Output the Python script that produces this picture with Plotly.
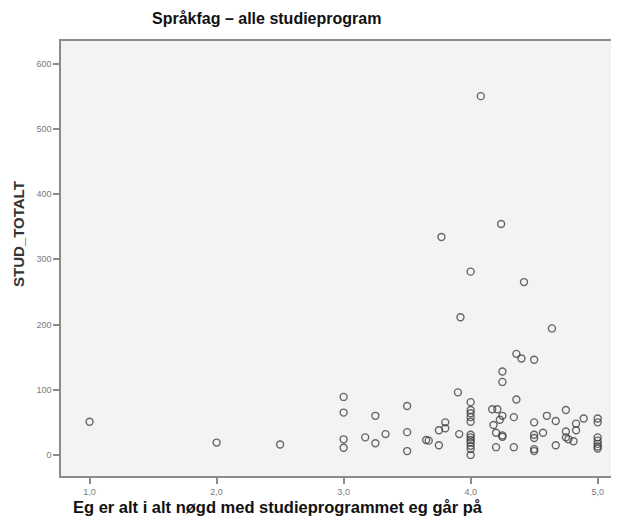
import plotly.graph_objects as go

# Satisfaction score (x) vs. total students (y)
satisfaction = [
    1.0, 2.0, 2.5,
    3.0, 3.0, 3.0, 3.0, 3.17, 3.25, 3.25, 3.33, 3.5, 3.5, 3.5,
    3.65, 3.67, 3.75, 3.75, 3.77, 3.8, 3.8, 3.9, 3.92, 3.91,
    4.0, 4.0, 4.0, 4.0, 4.0, 4.0, 4.0, 4.0, 4.0, 4.0, 4.0, 4.0, 4.0,
    4.08, 4.17, 4.21, 4.18, 4.2, 4.2, 4.23, 4.24, 4.25, 4.25, 4.25, 4.25, 4.25,
    4.34, 4.34, 4.36, 4.36, 4.4, 4.42,
    4.5, 4.5, 4.5, 4.5, 4.5, 4.5, 4.57, 4.6, 4.64, 4.67, 4.67,
    4.75, 4.75, 4.75, 4.77, 4.81, 4.83, 4.83, 4.89,
    5.0, 5.0, 5.0, 5.0, 5.0, 5.0, 5.0,
]
stud_totalt = [
    51, 19, 16,
    89, 65, 24, 11, 27, 60, 18, 32, 75, 35, 6,
    23, 22, 15, 38, 334, 50, 41, 96, 211, 32,
    281, 81, 69, 64, 58, 51, 31, 27, 23, 19, 14, 9, 0,
    550, 70, 70, 46, 34, 12, 54, 354, 128, 112, 60, 30, 28,
    58, 12, 85, 155, 148, 265,
    146, 50, 31, 26, 9, 6, 34, 60, 194, 52, 15,
    69, 36, 27, 24, 21, 48, 38, 56,
    56, 50, 27, 22, 17, 13, 10,
]

x_tickvals = [1, 2, 3, 4, 5]
x_ticktext = ["1,0", "2,0", "3,0", "4,0", "5,0"]
y_tickvals = [0, 100, 200, 300, 400, 500, 600]

title_text = "Språkfag – alle studieprogram"
x_title = "Eg er alt i alt nøgd med studieprogrammet eg går på"
y_title = "STUD_TOTALT"

OFF = 8  # page body margin
W, H = 619 - OFF, 529 - OFF
# target plot box in window pixels
px_l, px_r, px_t, px_b = 61, 619, 41, 476
L, T = px_l - OFF, px_t - OFF
R = W - (px_r - OFF)
B = H - (px_b - OFF)
pw, ph = W - L - R, H - T - B

def paper_x(px):
    return (px - px_l) / pw

def paper_y(py):
    return (px_b - py) / ph

fig = go.Figure()
fig.add_trace(go.Scatter(
    x=satisfaction, y=stud_totalt, mode="markers",
    marker=dict(symbol="circle-open", size=7,
                color="rgba(55,55,55,0.75)", line=dict(width=1.4)),
    hoverinfo="x+y", showlegend=False,
))

axis_font = dict(family="Liberation Sans, Arial, sans-serif", size=9, color="#7a7a7a")
fig.update_layout(
    width=W, height=H,
    margin=dict(l=L, r=R, t=T, b=B, pad=0),
    paper_bgcolor="white", plot_bgcolor="#f3f3f3",
    xaxis=dict(range=[0.775, 5.168], tickvals=x_tickvals, ticktext=x_ticktext,
               showgrid=False, zeroline=False, showline=True, linecolor="#8c8c8c",
               linewidth=1.5, mirror=True, ticks="outside", ticklen=6, tickcolor="#8c8c8c",
               tickwidth=1.5, tickfont=axis_font),
    yaxis=dict(range=[-32.2, 634.5], tickvals=y_tickvals,
               showgrid=False, zeroline=False, showline=True, linecolor="#8c8c8c",
               linewidth=1.5, mirror=False, ticks="outside", ticklen=6, tickcolor="#8c8c8c",
               tickwidth=1.5, tickfont=axis_font),
)

fig.add_annotation(text="<b>" + title_text + "</b>", xref="paper", yref="paper",
                   x=paper_x(266), y=paper_y(18), xanchor="center", yanchor="middle",
                   showarrow=False,
                   font=dict(family="Liberation Sans, Arial, sans-serif", size=16, color="#111"))
fig.add_annotation(text="<b>" + x_title + "</b>", xref="paper", yref="paper",
                   x=paper_x(278), y=paper_y(507), xanchor="center", yanchor="middle",
                   showarrow=False,
                   font=dict(family="Liberation Sans, Arial, sans-serif", size=16.5, color="#111"))
fig.add_annotation(text="<b>" + y_title + "</b>", xref="paper", yref="paper",
                   x=paper_x(18), y=paper_y(234), xanchor="center", yanchor="middle",
                   textangle=-90, showarrow=False,
                   font=dict(family="Liberation Sans, Arial, sans-serif", size=15, color="#333"))

fig.write_html("out.html")
